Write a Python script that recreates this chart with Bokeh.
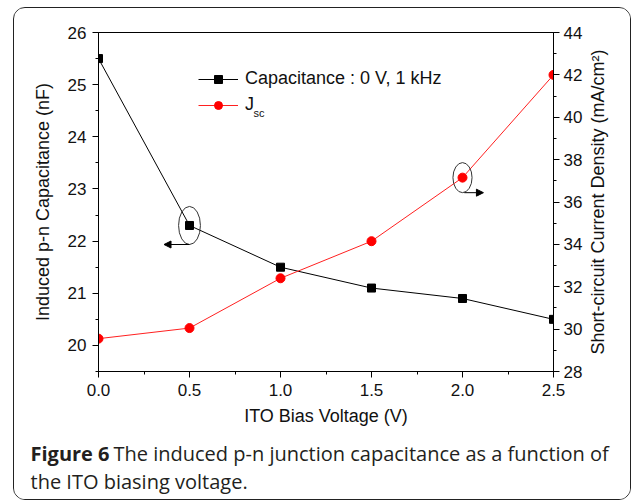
import math
from bokeh.plotting import figure
from bokeh.layouts import column, row
from bokeh.models import (Range1d, LinearAxis, SingleIntervalTicker, NumeralTickFormatter,
                          Legend, LegendItem, Label, Arrow, NormalHead)
from bokeh.embed import file_html
from bokeh.resources import INLINE

# ---- data ----
bias_v = [0.0, 0.5, 1.0, 1.5, 2.0, 2.5]
capacitance_nf = [25.5, 22.3, 21.5, 21.1, 20.9, 20.5]
jsc_ma_cm2 = [29.55, 30.05, 32.4, 34.15, 37.15, 42.0]

left_ticks = [20, 21, 22, 23, 24, 25, 26]
right_ticks = [28, 30, 32, 34, 36, 38, 40, 42, 44]
x_ticks = [0.0, 0.5, 1.0, 1.5, 2.0, 2.5]

legend_cap = "Capacitance : 0 V, 1 kHz"
legend_j = "J"
legend_j_sub = "sc"
x_title = "ITO Bias Voltage (V)"
left_title = "Induced p-n Capacitance (nF)"
right_title = "Short-circuit Current Density (mA/cm\u00b2)"
caption_bold = "Figure 6"
caption_1 = "The induced p-n junction capacitance as a function of"
caption_2 = "the ITO biasing voltage."

FONT = "Liberation Sans"
CAP_FONT = "Open Sans"

# geometry (canvas px)
OX, OY = 14, 8            # inner origin of the rounded box
FL, FR, FT, FB = 98, 553, 32, 371
IW = 616                  # inner width
PH = 425                  # chart height
CH = 66                   # caption height
RT_W = 44                 # strip holding the right axis title
PW = IW - RT_W


def bare_fig(w, h):
    f = figure(width=w, height=h, output_backend="svg", toolbar_location=None,
               x_range=Range1d(0, w), y_range=Range1d(0, h),
               x_axis_type=None, y_axis_type=None,
               min_border=0, min_border_left=0, min_border_right=0,
               min_border_top=0, min_border_bottom=0)
    f.xgrid.visible = False
    f.ygrid.visible = False
    f.outline_line_color = None
    f.background_fill_color = "white"
    f.border_fill_color = "white"
    f.frame_align = False
    return f


p = figure(width=PW, height=PH, output_backend="svg", toolbar_location=None,
           x_range=Range1d(0, 2.5), y_range=Range1d(19.5, 26),
           min_border_left=FL - OX, min_border_right=PW - (FR - OX),
           min_border_top=FT - OY, min_border_bottom=PH - (FB - OY))
p.frame_align = False
p.extra_y_ranges = {"right": Range1d(28, 44)}
p.xgrid.visible = False
p.ygrid.visible = False
p.outline_line_color = "black"
p.outline_line_width = 1
p.background_fill_color = "white"
p.border_fill_color = "white"


def style_axis(ax):
    ax.axis_line_color = "black"
    ax.major_tick_line_color = "black"
    ax.minor_tick_line_color = "black"
    ax.major_tick_in = 0
    ax.major_tick_out = 6
    ax.minor_tick_in = 0
    ax.minor_tick_out = 3
    ax.major_label_text_font = FONT
    ax.major_label_text_font_size = "17px"
    ax.major_label_text_color = "#111"
    ax.axis_label_text_font = FONT
    ax.axis_label_text_font_size = "18px"
    ax.axis_label_text_font_style = "normal"
    ax.axis_label_text_color = "#111"


xa = p.xaxis[0]
xa.ticker = SingleIntervalTicker(interval=0.5, num_minor_ticks=2)
xa.formatter = NumeralTickFormatter(format="0.0")
xa.axis_label = x_title
style_axis(xa)
xa.major_label_standoff = 6
xa.axis_label_standoff = 7

ya = p.yaxis[0]
ya.ticker = SingleIntervalTicker(interval=1, num_minor_ticks=2)
ya.formatter = NumeralTickFormatter(format="0")
ya.axis_label = left_title
style_axis(ya)
ya.major_label_standoff = 6
ya.axis_label_standoff = 12

ra = LinearAxis(y_range_name="right",
                ticker=SingleIntervalTicker(interval=2, num_minor_ticks=2),
                formatter=NumeralTickFormatter(format="0"))
style_axis(ra)
ra.major_label_standoff = 4
p.add_layout(ra, "right")

# series
l1 = p.line(bias_v, capacitance_nf, line_color="black", line_width=1)
m1 = p.scatter(bias_v, capacitance_nf, marker="square", size=8,
               fill_color="black", line_color="black")
l2 = p.line(bias_v, jsc_ma_cm2, line_color="#ff2020", line_width=1, y_range_name="right")
m2 = p.scatter(bias_v, jsc_ma_cm2, marker="circle", size=9,
               fill_color="#ff0000", line_color="#ff0000", y_range_name="right")

# ellipses and arrows marking which axis each series uses
e1w, e1h = 0.12, 0.73
e2w, e2h = 0.105, 1.42
p.ellipse(x=[bias_v[1]], y=[capacitance_nf[1]], width=e1w, height=e1h,
          fill_color=None, line_color="#333", line_width=1)
p.ellipse(x=[bias_v[4]], y=[jsc_ma_cm2[4]], width=e2w, height=e2h,
          fill_color=None, line_color="#333", line_width=1, y_range_name="right")
p.add_layout(Arrow(x_start=bias_v[1], y_start=capacitance_nf[1] - e1h / 2,
                   x_end=bias_v[1] - 0.14, y_end=capacitance_nf[1] - e1h / 2,
                   line_color="black", line_width=1,
                   end=NormalHead(size=7, fill_color="black", line_color="black")))
p.add_layout(Arrow(x_start=bias_v[4] + 0.01, y_start=jsc_ma_cm2[4] - e2h / 2,
                   x_end=bias_v[4] + 0.115, y_end=jsc_ma_cm2[4] - e2h / 2,
                   line_color="black", line_width=1, y_range_name="right",
                   end=NormalHead(size=7, fill_color="black", line_color="black")))

# legend
leg = Legend(items=[LegendItem(label=legend_cap, renderers=[l1, m1]),
                    LegendItem(label=legend_j, renderers=[l2, m2])],
             location=(198 - FL, FB - 115), orientation="vertical",
             glyph_width=40, glyph_height=20, label_height=20, spacing=5,
             label_standoff=7, padding=0, margin=0,
             border_line_alpha=0, background_fill_alpha=0,
             label_text_font=FONT, label_text_font_size="18px", label_text_color="#111")
p.add_layout(leg)
p.add_layout(Label(x=253 - FL, y=FB - 112, x_units="screen", y_units="screen",
                   text=legend_j_sub, text_font=FONT, text_font_size="11px",
                   text_color="#111", text_baseline="alphabetic"))

# right axis title strip
rt = bare_fig(RT_W, PH)
rt.add_layout(Label(x=597 - (OX + PW), y=PH - ((FT + FB) / 2 - OY),
                    x_units="screen", y_units="screen", angle=math.pi / 2,
                    text=right_title, text_font=FONT, text_font_size="18px",
                    text_color="#111", text_align="center", text_baseline="middle"))

# caption panel (vertical centres of the two caption lines, canvas px)
cap = bare_fig(IW, CH)
cap_top = OY + PH
for txt, cx, cy, style in [(caption_bold, 30, 453, "bold"),
                           (caption_1, 113, 453, "normal"),
                           (caption_2, 30, 481, "normal")]:
    cap.add_layout(Label(x=cx - OX, y=CH - (cy - cap_top), x_units="screen", y_units="screen",
                         text=txt, text_font=CAP_FONT, text_font_size="20px",
                         text_font_style=style, text_color="#231f20",
                         text_baseline="middle"))

root = column(row(p, rt, spacing=0), cap, spacing=0, margin=(OY - 1, 0, 0, OX - 1),
              styles={"border": "1px solid #222", "border-radius": "12px",
                      "overflow": "hidden"})

open("out.html", "w").write(file_html(root, INLINE))
